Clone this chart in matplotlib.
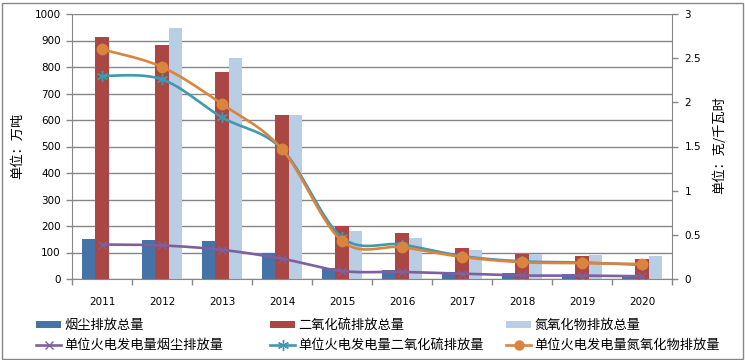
import numpy as np
import matplotlib
matplotlib.use("Agg")
import matplotlib.pyplot as plt
from matplotlib.patches import Patch, Rectangle
from matplotlib.lines import Line2D

plt.rcParams['font.family'] = ['Noto Sans CJK SC', 'DejaVu Sans']

years = ['2011', '2012', '2013', '2014', '2015', '2016', '2017', '2018', '2019', '2020']
smoke_total = [151, 148, 142, 97, 40, 35, 26, 21, 18, 15.5]
so2_total = [914, 883, 780, 620, 200, 172, 118, 96, 88, 77]
nox_total = [0, 948, 835, 620, 180, 153, 111, 95, 92, 85]
smoke_rate = [0.39, 0.38, 0.33, 0.23, 0.09, 0.08, 0.06, 0.04, 0.038, 0.032]
so2_rate = [2.30, 2.26, 1.83, 1.47, 0.47, 0.39, 0.26, 0.20, 0.187, 0.16]
nox_rate = [2.60, 2.40, 1.98, 1.47, 0.43, 0.36, 0.25, 0.19, 0.179, 0.17]

labels_bar = ['烟尘排放总量', '二氧化硫排放总量', '氮氧化物排放总量']
labels_line = ['单位火电发电量烟尘排放量', '单位火电发电量二氧化硫排放量', '单位火电发电量氮氧化物排放量']

c_blue = '#4572A7'
c_red = '#AA4643'
c_light = '#B9CDE5'
c_purple = '#7D60A0'
c_teal = '#4198AF'
c_orange = '#DB843D'
c_axis = '#868686'

W, H = 745, 360
fig = plt.figure(figsize=(W / 100, H / 100), dpi=100)
fig.patch.set_facecolor('white')
fig.patches.append(Rectangle((1.5 / W, 1.5 / H), (W - 4) / W, (H - 4) / H,
                             transform=fig.transFigure, fill=False,
                             edgecolor=c_axis, linewidth=1))

L, R, T, B = 72, 672, 14, 279
ax = fig.add_axes([L / W, (H - B) / H, (R - L) / W, (B - T) / H])
ax2 = ax.twinx()

x = np.arange(len(years))
bw = 0.222
ax.bar(x - bw, smoke_total, bw, color=c_blue, zorder=2)
ax.bar(x, so2_total, bw, color=c_red, zorder=2)
ax.bar(x + bw, nox_total, bw, color=c_light, zorder=2)

ax.set_xlim(-0.5, len(years) - 0.5)
ax.set_ylim(0, 1000)
ax.set_yticks(np.arange(0, 1001, 100))
ax.yaxis.grid(True, color=c_axis, linewidth=1)
ax.set_axisbelow(True)
ax.set_xticks(x)
ax.set_xticklabels(years, fontsize=7.5, family='DejaVu Sans')
ax.set_xticks(np.arange(-0.5, len(years), 1), minor=True)
ax.tick_params(axis='x', which='major', length=0, pad=13)
ax.tick_params(axis='x', which='minor', length=4, color=c_axis, width=1)
ax.tick_params(axis='y', length=4, color=c_axis, width=1, pad=4, labelsize=7.5)
for lab in ax.get_yticklabels():
    lab.set_family('DejaVu Sans')

for s in ['top']:
    ax.spines[s].set_visible(False)
    ax2.spines[s].set_visible(False)
ax.spines['right'].set_visible(False)
for s in ['left', 'bottom']:
    ax.spines[s].set_color(c_axis)
ax2.spines['right'].set_color(c_axis)
ax2.spines['left'].set_visible(False)
ax2.spines['bottom'].set_visible(False)

ax2.set_ylim(0, 3)
ax2.set_yticks([0, 0.5, 1, 1.5, 2, 2.5, 3])
ax2.set_yticklabels(['0', '0.5', '1', '1.5', '2', '2.5', '3'], family='DejaVu Sans')
ax2.tick_params(axis='y', length=4, color=c_axis, width=1, pad=5, labelsize=7.5)


def smooth(xs, ys, n=30):
    xs = np.asarray(xs, float)
    ys = np.asarray(ys, float)
    P = np.column_stack([xs, ys])
    out = []
    m = len(P)
    for i in range(m - 1):
        p0 = P[i]
        p3 = P[i + 1]
        pm = P[i - 1] if i > 0 else P[i]
        pp = P[i + 2] if i + 2 < m else P[i + 1]
        c1 = p0 + (p3 - pm) / 6.0
        c2 = p3 - (pp - p0) / 6.0
        t = np.linspace(0, 1, n)[:, None]
        seg = ((1 - t) ** 3) * p0 + 3 * ((1 - t) ** 2) * t * c1 + 3 * (1 - t) * t ** 2 * c2 + t ** 3 * p3
        out.append(seg if i == 0 else seg[1:])
    s = np.vstack(out)
    return s[:, 0], s[:, 1]


lw = 1.9
star = (6, 2, 0)
for vals, col, mk, ms, mfc in [(smoke_rate, c_purple, 'x', 6, c_purple),
                               (so2_rate, c_teal, star, 8, c_teal),
                               (nox_rate, c_orange, 'o', 7.5, c_orange)]:
    sx, sy = smooth(x, vals)
    ax2.plot(sx, sy, color=col, linewidth=lw, solid_capstyle='round', zorder=3)
    ax2.plot(x, vals, linestyle='none', marker=mk, markersize=ms, color=col,
             markerfacecolor=mfc, markeredgewidth=1, zorder=4)

fig.text(18 / W, 1 - 146 / H, '单位：万吨', rotation=90, ha='center', va='center', fontsize=9.5)
fig.text(720 / W, 1 - 145 / H, '单位：克/千瓦时', rotation=90, ha='center', va='center', fontsize=9.5)

# Legends: three columns
bar_cols = [c_blue, c_red, c_light]
line_specs = [(c_purple, 'x', 6), (c_teal, star, 8), (c_orange, 'o', 6.5)]
col_x = [36, 270, 506]
for i in range(3):
    hb = Patch(facecolor=bar_cols[i], edgecolor='none')
    c, mk, ms = line_specs[i]
    hl = Line2D([], [], color=c, linewidth=lw, marker=mk, markersize=ms,
                markerfacecolor=c, markeredgewidth=1)
    lg = fig.legend([hb, hl], [labels_bar[i], labels_line[i]],
                    loc='upper left', bbox_to_anchor=(col_x[i] / W, 1 - 319 / H),
                    frameon=False, fontsize=9.5, handlelength=1.9, handleheight=0.5,
                    handletextpad=0.25, labelspacing=0.55, borderpad=0, borderaxespad=0)

fig.savefig('out.png', dpi=100, facecolor='white')
